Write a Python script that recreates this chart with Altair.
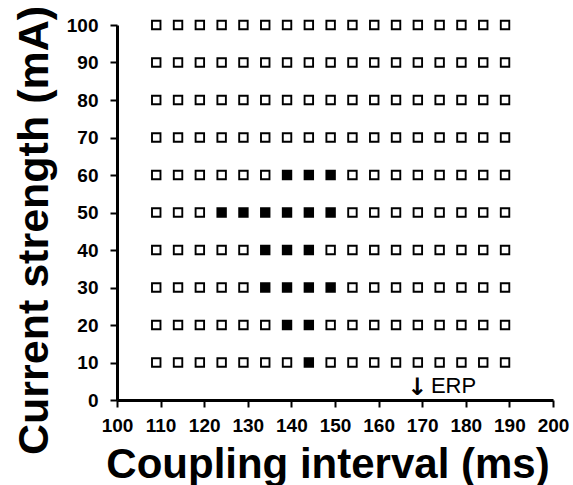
import altair as alt
import pandas as pd

# Coupling interval values (ms) tested
x_values = [109, 114, 119, 124, 129, 134, 139, 144, 149, 154, 159, 164, 169, 174, 179, 184, 189]
# Current strengths (mA)
y_values = [10, 20, 30, 40, 50, 60, 70, 80, 90, 100]
# Filled (induced) squares per current strength
filled = {
    10: [144],
    20: [139, 144],
    30: [134, 139, 144, 149],
    40: [134, 139, 144],
    50: [124, 129, 134, 139, 144, 149],
    60: [139, 144, 149],
}
x_ticks = [100, 110, 120, 130, 140, 150, 160, 170, 180, 190, 200]
y_ticks = [0, 10, 20, 30, 40, 50, 60, 70, 80, 90, 100]
arrow_x = [168.8]
arrow_y = [1.3]
erp_x = [172.0]
erp_y = [1.9]

rows = []
for yv in y_values:
    for xv in x_values:
        rows.append({"x": xv, "y": yv, "hit": "yes" if xv in filled.get(yv, []) else "no"})
df = pd.DataFrame(rows)

FONT = "Liberation Sans"

xscale = alt.Scale(domain=[100, 200], nice=False, zero=False)
yscale = alt.Scale(domain=[0, 100], nice=False)

xaxis = alt.Axis(values=x_ticks, title="Coupling interval (ms)",
                 titleX=210.5, titleY=77, titleBaseline="alphabetic",
                 titleAlign="center", labelPadding=9, labelOverlap=False,
                 labelFlush=False, titleFontSize=42)
yaxis = alt.Axis(values=y_ticks, title="Current strength (mA)",
                 titleX=-70, titleY=205, titleAngle=270,
                 titleBaseline="alphabetic", titleAlign="center",
                 labelPadding=12, labelOverlap=False, labelFlush=False,
                 titleFontSize=43)

points = alt.Chart(df).mark_square(size=72, strokeWidth=1.9, stroke="black", opacity=1).encode(
    x=alt.X("x:Q", scale=xscale, axis=xaxis),
    y=alt.Y("y:Q", scale=yscale, axis=yaxis),
    fill=alt.Fill("hit:N", scale=alt.Scale(domain=["no", "yes"], range=["white", "black"]), legend=None),
)

arrow = alt.Chart(pd.DataFrame({"x": arrow_x, "y": arrow_y, "t": ["↓"]})).mark_text(
    align="center", baseline="alphabetic", font="DejaVu Sans", fontSize=24, fontWeight="bold", color="black"
).encode(x=alt.X("x:Q", scale=xscale, axis=xaxis), y=alt.Y("y:Q", scale=yscale, axis=yaxis), text="t:N")

ann = alt.Chart(pd.DataFrame({"x": erp_x, "y": erp_y, "t": ["ERP"]})).mark_text(
    align="left", baseline="alphabetic", font=FONT, fontSize=22, color="black"
).encode(x=alt.X("x:Q", scale=xscale, axis=xaxis), y=alt.Y("y:Q", scale=yscale, axis=yaxis), text="t:N")

chart = alt.layer(points, arrow, ann).properties(
    width=436, height=375,
    autosize=alt.AutoSizeParams(type="none"),
    padding={"left": 117, "top": 25, "right": 20, "bottom": 85},
).configure_view(stroke=None).configure_axis(
    grid=False, labelOverlap=False, labelFlush=False,
    domainColor="black", domainWidth=3,
    tickColor="black", tickWidth=2, tickSize=7,
    labelFont=FONT, labelFontWeight="bold", labelFontSize=19, labelColor="black",
    titleFont=FONT, titleFontWeight="bold", titleColor="black",
)

chart.save("out.html", embed_options={"renderer": "svg", "actions": False})
